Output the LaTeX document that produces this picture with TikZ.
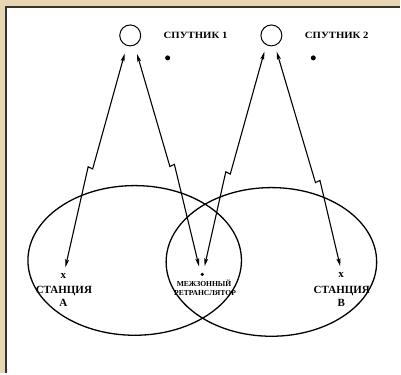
\documentclass[tikz,border=0pt]{standalone}
\usepackage{fontspec}
\setmainfont{Liberation Serif}
\usetikzlibrary{arrows.meta,calc}
\definecolor{frametan}{RGB}{232,214,178}
\definecolor{frameline}{RGB}{55,50,45}
\tikzset{
  sat/.style={circle,draw,line width=1pt,minimum size=21pt,inner sep=0pt},
  blob/.style={circle,fill,inner sep=0pt,minimum size=5pt},
  zone/.style={line width=1.3pt},
  link/.style={line width=1.1pt,line join=miter,
    {Stealth[length=8pt,width=3.8pt,inset=1.5pt]}-{Stealth[length=8pt,width=3.8pt,inset=1.5pt]}},
  satlabel/.style={font=\fontsize{9.6}{11}\selectfont\bfseries,inner sep=0pt},
  stlabel/.style={font=\fontsize{11}{12}\selectfont\bfseries,inner sep=0pt},
  rlabel/.style={font=\fontsize{7.6}{9}\selectfont\bfseries,inner sep=0pt},
  crossmark/.style={font=\fontsize{11}{12}\selectfont\bfseries,inner sep=0pt}
}
\begin{document}
\begin{tikzpicture}[x=1pt,y=-1pt]
  % page frame
  \fill[frametan] (0,0) rectangle (401,374);
  \fill[white] (5.5,6.5) rectangle (401,374);
  \draw[frameline,line width=1.8pt] (6.3,374) -- (6.3,7.2) -- (401,7.2);
  \useasboundingbox (0,0) rectangle (401,374);

  % coverage zones
  \draw[zone] (135,261) ellipse [x radius=107, y radius=75];
  \draw[zone] (272,262.5) ellipse [x radius=105.5, y radius=74.5];

  % satellites
  \node[sat] (s1) at (130.5,35.5) {};
  \node[sat] (s2) at (272,35.5) {};
  \node[satlabel] (l1) at (196,35) {\scalebox{1.12}[1]{СПУТНИК 1}};
  \node[satlabel] (l2) at (337.5,35) {\scalebox{1.12}[1]{СПУТНИК 2}};
  \node[blob] (d1) at (168,58) {};
  \node[blob] (d2) at (314,58) {};

  % link end points
  \coordinate (s1a) at (125,53.5);
  \coordinate (s1b) at (137.3,54);
  \coordinate (s2a) at (265,51.7);
  \coordinate (s2b) at (277.3,51.7);
  \coordinate (ea) at (65.5,268);
  \coordinate (er1) at (199.5,267);
  \coordinate (er2) at (205,267);
  \coordinate (eb) at (341,267);

  % station A
  \node[crossmark] (xa) at (63.5,277) {x};
  \node[stlabel] (sa) at (64,291.5) {СТАНЦИЯ};
  \node[stlabel] (sa2) at (63.5,303.5) {А};

  % inter-zone relay
  \node[blob,minimum size=3.6pt] (rd) at (202.7,275) {};
  \node[rlabel] (r1) at (204.5,283.5) {МЕЖЗОННЫЙ};
  \node[rlabel] (r2) at (205.5,293.5) {РЕТРАНСЛЯТОР};

  % station B
  \node[crossmark] (xb) at (342,276) {x};
  \node[stlabel] (sb) at (342.5,291.5) {СТАНЦИЯ};
  \node[stlabel] (sb2) at (342,303.5) {В};

  % radio links with the lightning break
  \draw[link] (s1a) -- ($(s1a)!0.54!(ea)$) -- ($(s1a)!0.54!(ea)+(-4.5,-2.2)$) -- (ea);
  \draw[link] (s1b) -- ($(s1b)!0.53!(er1)$) -- ($(s1b)!0.53!(er1)+(4.5,-2.2)$) -- (er1);
  \draw[link] (s2a) -- ($(s2a)!0.57!(er2)$) -- ($(s2a)!0.57!(er2)+(-4.5,-2.2)$) -- (er2);
  \draw[link] (s2b) -- ($(s2b)!0.61!(eb)$) -- ($(s2b)!0.61!(eb)+(4.5,-2.2)$) -- (eb);
\end{tikzpicture}
\end{document}
